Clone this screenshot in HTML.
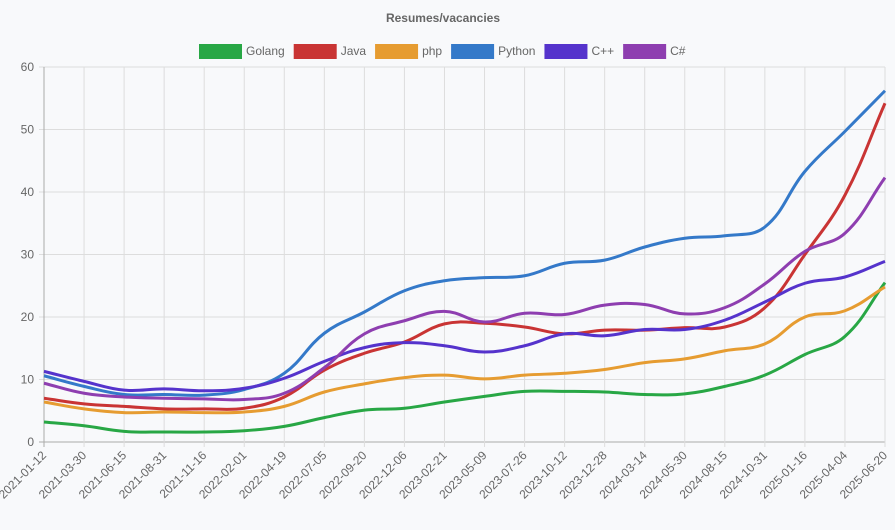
<!DOCTYPE html>
<html><head><meta charset="utf-8"><style>
body{margin:0;background:#f8f9fb;font-family:"Liberation Sans",Arial,sans-serif}
svg text{font-family:"Liberation Sans",Arial,sans-serif;fill:#666;font-size:12px}
</style></head><body>
<svg id="c" width="895" height="525">
<text x="443" y="22" text-anchor="middle" font-weight="bold">Resumes/vacancies</text>
<g id="grid"></g><g id="legend"></g><g id="lines"></g>
</svg>
<script>
const categories=["2021-01-12","2021-03-30","2021-06-15","2021-08-31","2021-11-16","2022-02-01","2022-04-19","2022-07-05","2022-09-20","2022-12-06","2023-02-21","2023-05-09","2023-07-26","2023-10-12","2023-12-28","2024-03-14","2024-05-30","2024-08-15","2024-10-31","2025-01-16","2025-04-04","2025-06-20"];
const golang=[3.2,2.6,1.7,1.6,1.6,1.8,2.5,3.9,5.1,5.4,6.4,7.3,8.1,8.1,8.0,7.6,7.7,8.9,10.7,14.0,16.9,25.5];
const java=[7.0,6.1,5.7,5.3,5.3,5.4,7.2,11.5,14.2,16.0,18.9,19.0,18.4,17.3,17.9,17.9,18.3,18.4,21.5,30.0,39.5,54.2];
const php=[6.4,5.3,4.7,4.8,4.7,4.8,5.7,8.0,9.3,10.3,10.7,10.1,10.7,11.0,11.6,12.7,13.3,14.6,15.7,20.0,21.0,24.8];
const python=[10.6,8.9,7.6,7.6,7.5,8.4,11.0,17.4,20.8,24.2,25.8,26.3,26.6,28.6,29.1,31.2,32.6,33.0,34.4,43.3,49.7,56.2];
const cpp=[11.3,9.7,8.3,8.5,8.2,8.6,10.2,12.9,15.1,15.9,15.4,14.4,15.4,17.3,17.0,18.0,18.0,19.5,22.4,25.4,26.4,28.9];
const csharp=[9.4,7.8,7.2,7.0,6.9,6.8,7.8,11.9,17.3,19.4,20.9,19.2,20.6,20.4,21.9,22.0,20.5,21.5,25.3,30.5,33.4,42.3];
const yTicks=[0,10,20,30,40,50,60];
const series=[["Golang",golang,"#28a745"],["Java",java,"#c93434"],["php",php,"#e69c31"],["Python",python,"#3479c9"],["C++",cpp,"#5533cc"],["C#",csharp,"#8e3eb0"]];
const NS="http://www.w3.org/2000/svg";
const X0=44,X1=885,Y0=442,Y1=67,YMAX=60;
const xs=i=>X0+(X1-X0)*i/(categories.length-1);
const ys=v=>Y0-(Y0-Y1)*v/YMAX;
function mk(t,a,p){const e=document.createElementNS(NS,t);for(const k in a)e.setAttribute(k,a[k]);p.appendChild(e);return e;}
const g=document.getElementById('grid');
yTicks.forEach(v=>{
 const l=mk('line',{x1:X0-5,x2:X1,y1:ys(v),y2:ys(v),stroke:v===0?'#aaa':'#ddd'},g);
 
 
 const t=mk('text',{x:X0-10,y:ys(v)+4,'text-anchor':'end'},g);t.textContent=v;
 
 
});
categories.forEach((c,i)=>{
 const x=xs(i);
 const l=mk('line',{x1:x,x2:x,y1:Y1,y2:Y0+5,stroke:i===0?'#aaa':'#ddd'},g);
 
 
 const t=mk('text',{x:x+3,y:Y0+14,'text-anchor':'end',transform:`rotate(-45 ${x+3} ${Y0+14})`},g);t.textContent=c;
 
 
});
// legend
const lg=document.getElementById('legend');
let lx=199;
series.forEach(s=>{
 const grp=mk('g',{},lg);
 
 
 mk('rect',{x:lx,y:44,width:43,height:15,fill:s[2]},grp);
 const t=mk('text',{x:lx+47,y:55},grp);t.textContent=s[0];
 lx+=47+t.getComputedTextLength()+9;
});
// lines
function path(vals){
 const p=vals.map((v,i)=>[xs(i),ys(v)]);const n=p.length;const T=0.4;
 let d=`M${p[0][0]},${p[0][1]}`;
 const cp=[];
 for(let i=0;i<n;i++){
  const pr=p[Math.max(0,i-1)],cu=p[i],nx=p[Math.min(n-1,i+1)];
  const d01=Math.hypot(cu[0]-pr[0],cu[1]-pr[1]),d12=Math.hypot(nx[0]-cu[0],nx[1]-cu[1]);
  let fa=d01/(d01+d12)||0,fb=d12/(d01+d12)||0;fa*=T;fb*=T;
  cp.push({p:[cu[0]-fa*(nx[0]-pr[0]),cu[1]-fa*(nx[1]-pr[1])],n:[cu[0]+fb*(nx[0]-pr[0]),cu[1]+fb*(nx[1]-pr[1])]});
 }
 for(let i=1;i<n;i++){d+=`C${cp[i-1].n[0]},${cp[i-1].n[1]} ${cp[i].p[0]},${cp[i].p[1]} ${p[i][0]},${p[i][1]}`;}
 return d;
}
const L=document.getElementById('lines');
series.forEach(s=>{
 const e=mk('path',{d:path(s[1]),fill:'none',stroke:s[2],'stroke-width':3},L);
 
 
});
</script>
</body></html>
